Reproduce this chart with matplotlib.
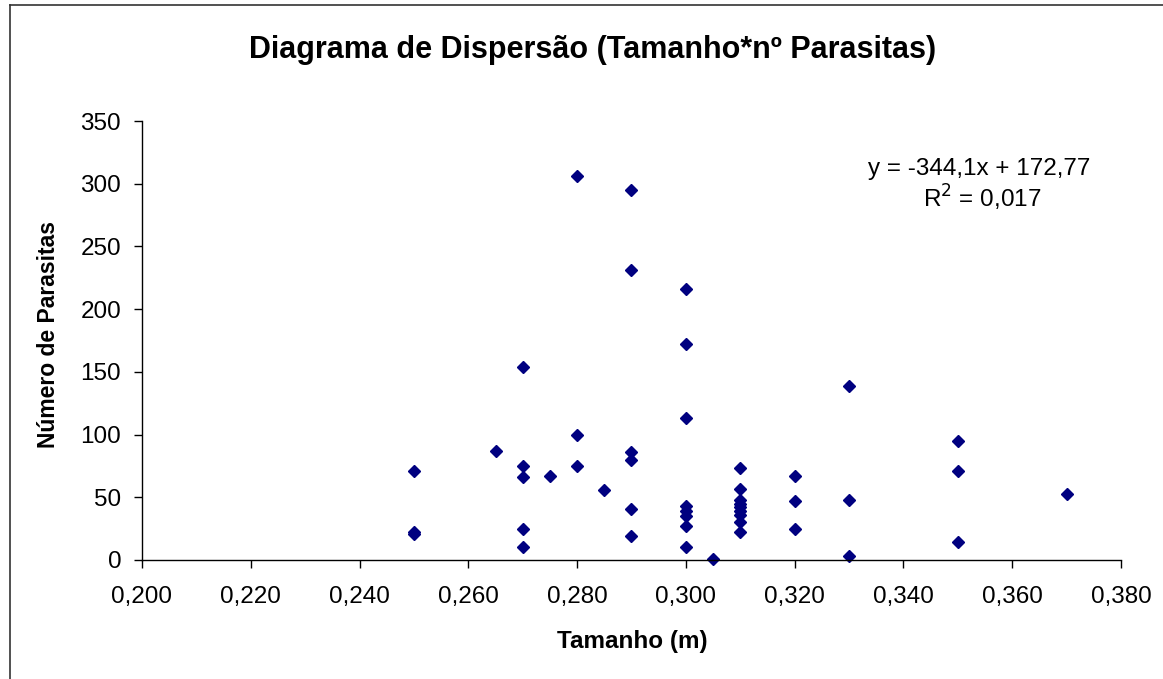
import matplotlib
matplotlib.use("Agg")
import matplotlib.pyplot as plt
from matplotlib.lines import Line2D

plt.rcParams['font.family'] = ['Liberation Sans', 'DejaVu Sans']

# Data
tamanho = [0.250, 0.250, 0.250,
           0.265,
           0.270, 0.270, 0.270, 0.270, 0.270,
           0.275,
           0.280, 0.280, 0.280,
           0.285,
           0.290, 0.290, 0.290, 0.290, 0.290, 0.290,
           0.300, 0.300, 0.300, 0.300, 0.300, 0.300, 0.300, 0.300,
           0.305,
           0.310, 0.310, 0.310, 0.310, 0.310, 0.310, 0.310, 0.310, 0.310,
           0.320, 0.320, 0.320,
           0.330, 0.330, 0.330,
           0.350, 0.350, 0.350,
           0.370]
parasitas = [71, 22, 21,
             87,
             154, 75, 66, 25, 10,
             67,
             306, 100, 75,
             56,
             295, 231, 86, 80, 41, 19,
             216, 172, 113, 43, 39, 35, 27, 10,
             1,
             73, 57, 48, 45, 42, 39, 36, 30, 22,
             67, 47, 25,
             139, 48, 3,
             95, 71, 14,
             53]

x_ticks = [0.200, 0.220, 0.240, 0.260, 0.280, 0.300, 0.320, 0.340, 0.360, 0.380]
x_tick_labels = ["0,200", "0,220", "0,240", "0,260", "0,280", "0,300",
                 "0,320", "0,340", "0,360", "0,380"]
y_ticks = [0, 50, 100, 150, 200, 250, 300, 350]

title = "Diagrama de Dispersão (Tamanho*nº Parasitas)"
xlabel = "Tamanho (m)"
ylabel = "Número de Parasitas"
equation = "y = -344,1x + 172,77"
r2_text = "R$^2$ = 0,017"

W, H = 1163, 679
fig = plt.figure(figsize=(W / 100, H / 100), dpi=100)
ax = fig.add_axes([142 / W, 1 - 560 / H, (1121 - 142) / W, (560 - 121) / H])

ax.plot(tamanho, parasitas, linestyle='none', marker='D', markersize=5.8,
        color='#000080', markeredgecolor='#000080', clip_on=False)

ax.set_xlim(0.200, 0.380)
ax.set_ylim(0, 350)
ax.set_xticks(x_ticks)
ax.set_xticklabels(x_tick_labels)
ax.set_yticks(y_ticks)

for s in ['top', 'right']:
    ax.spines[s].set_visible(False)
for s in ['left', 'bottom']:
    ax.spines[s].set_color('black')
    ax.spines[s].set_linewidth(1.0)
ax.tick_params(axis='both', direction='out', length=6, width=1, color='black',
               labelsize=17.5)
ax.tick_params(axis='x', pad=13)
ax.tick_params(axis='y', pad=9)

fig.text(593 / W, 1 - 50 / H, title, ha='center', va='center',
         fontsize=22, fontweight='bold')
fig.text(632 / W, 1 - 648 / H, xlabel, ha='center', va='baseline',
         fontsize=17.5, fontweight='bold')
fig.text(49 / W, 1 - 334 / H, ylabel, ha='center', va='center',
         fontsize=16.5, fontweight='bold', rotation=90)
fig.text(979 / W, 1 - 175 / H, equation, ha='center', va='baseline', fontsize=17.5)
fig.text(982 / W, 1 - 208 / H, r2_text, ha='center', va='baseline', fontsize=17.5)

# chart-area border (left and top edges visible in the reference)
fig.add_artist(Line2D([10 / W, 10 / W], [0, 1 - 5 / H], transform=fig.transFigure,
                      color='#333333', linewidth=1.2))
fig.add_artist(Line2D([10 / W, 1], [1 - 5 / H, 1 - 5 / H], transform=fig.transFigure,
                      color='#333333', linewidth=1.2))

fig.savefig("out.png", dpi=100)
